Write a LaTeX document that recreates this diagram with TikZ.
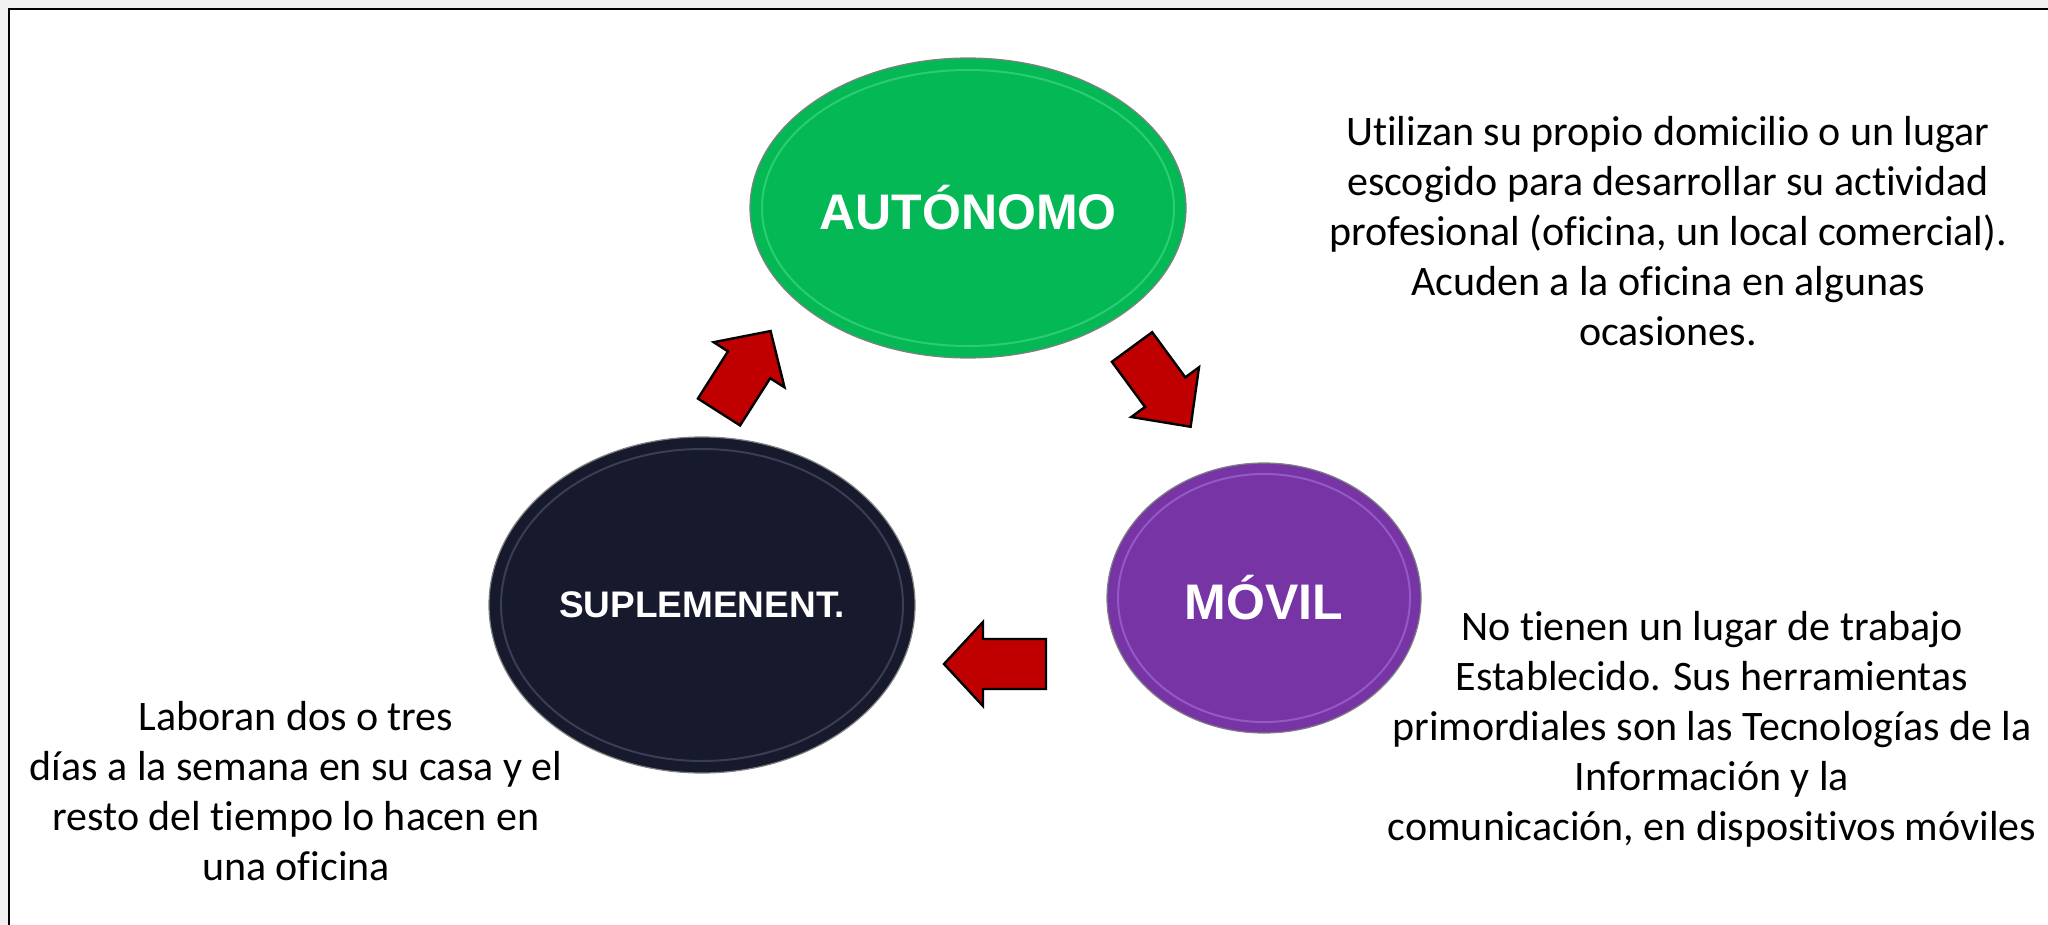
\documentclass[tikz,border=0pt]{standalone}
\usepackage{fontspec}
\setmainfont{Carlito}[Ligatures=NoCommon]
\newfontfamily\headfont{Liberation Sans}
\usepackage{tikz}
\usetikzlibrary{shapes.geometric}
\definecolor{pagegray}{RGB}{240,240,240}
\definecolor{autgreen}{RGB}{4,185,85}
\definecolor{autrim}{RGB}{95,228,145}
\definecolor{supnavy}{RGB}{23,25,45}
\definecolor{suprim}{RGB}{100,105,135}
\definecolor{movpurple}{RGB}{118,52,165}
\definecolor{movrim}{RGB}{185,135,240}
\definecolor{arrowred}{RGB}{192,0,0}
\tikzset{
  bubble/.style={ellipse, inner sep=0pt, draw=black!50, line width=0.6pt,
    text=white, font=\headfont\bfseries\fontsize{25}{29}\selectfont},
  rim/.style={draw=#1, line width=1pt, opacity=.45},
  blockarrow/.style={fill=arrowred, draw=black, line width=1.2pt},
  desc/.style={align=center, inner sep=0pt, anchor=north,
    font=\fontsize{21}{25}\selectfont}
}

\begin{document}
\begin{tikzpicture}[x=0.5pt, y=-0.5pt]
    \useasboundingbox (0,0) rectangle (2048,925);
    \clip (0,0) rectangle (2048,925);
    \fill [pagegray] (0,0) rectangle (2048,925);
    \draw [fill=white, line width=1.2pt] (9,9) rectangle (2100,980);

    \coordinate (cA) at (968, 208);
    \coordinate (cM) at (1264, 598);
    \coordinate (cS) at (702, 605);

    % the three bubbles
    \node [bubble, fill=autgreen, minimum width=218pt,
    minimum height=150pt] (aut) at (cA) {AUTÓNOMO};
    \draw [rim=autrim] (aut.center) ellipse [x radius=206, y radius=138];

    \node [bubble, fill=movpurple, minimum width=157pt,
    minimum height=135pt] (mov) at (cM) {MÓVIL};
    \draw [rim=movrim] (mov.center) ellipse [x radius=146, y radius=124];

    \node [bubble, fill=supnavy, minimum width=213pt, minimum height=168pt,
    font=\headfont\bfseries\fontsize{18.5}{22}\selectfont] (sup) at (cS) {SUPLEMENENT.};
    \draw [rim=suprim] (sup.center) ellipse [x radius=201, y radius=156];

    % red block arrows
    \coordinate (a1) at (719, 412);
    \coordinate (a2) at (1132, 347);
    \coordinate (a3) at (1046, 664);

    \draw [blockarrow, shift={(a1)}, rotate=57.5] (0,-25) -- (56,-25) -- (56,-42)
    -- (96,0) -- (56,42) -- (56,25) -- (0,25) -- cycle;
    \draw [blockarrow, shift={(a2)}, rotate=-53.7] (0,-25) -- (56,-25) -- (56,-42)
    -- (99,0) -- (56,42) -- (56,25) -- (0,25) -- cycle;
    \draw [blockarrow, shift={(a3)}, rotate=180] (0,-25) -- (63,-25) -- (63,-42)
    -- (102,0) -- (63,42) -- (63,25) -- (0,25) -- cycle;

    % descriptions
    \node [desc] (autdesc) at (1668, 116) {Utilizan su propio domicilio o un lugar\\
    escogido para desarrollar su actividad\\
    profesional (oficina, un local comercial).\\
    Acuden a la oficina en algunas\\
    ocasiones.};

    \node [desc] (movdesc) at (1712, 611) {No tienen un lugar de trabajo\\
    Establecido. Sus herramientas\\
    primordiales son las Tecnologías de la\\
    Información y la\\
    comunicación, en dispositivos móviles};

    \node [desc] (supdesc) at (296, 701) {Laboran dos o tres\\
    días a la semana en su casa y el\\
    resto del tiempo lo hacen en\\
    una oficina};

  \end{tikzpicture}
\end{document}
